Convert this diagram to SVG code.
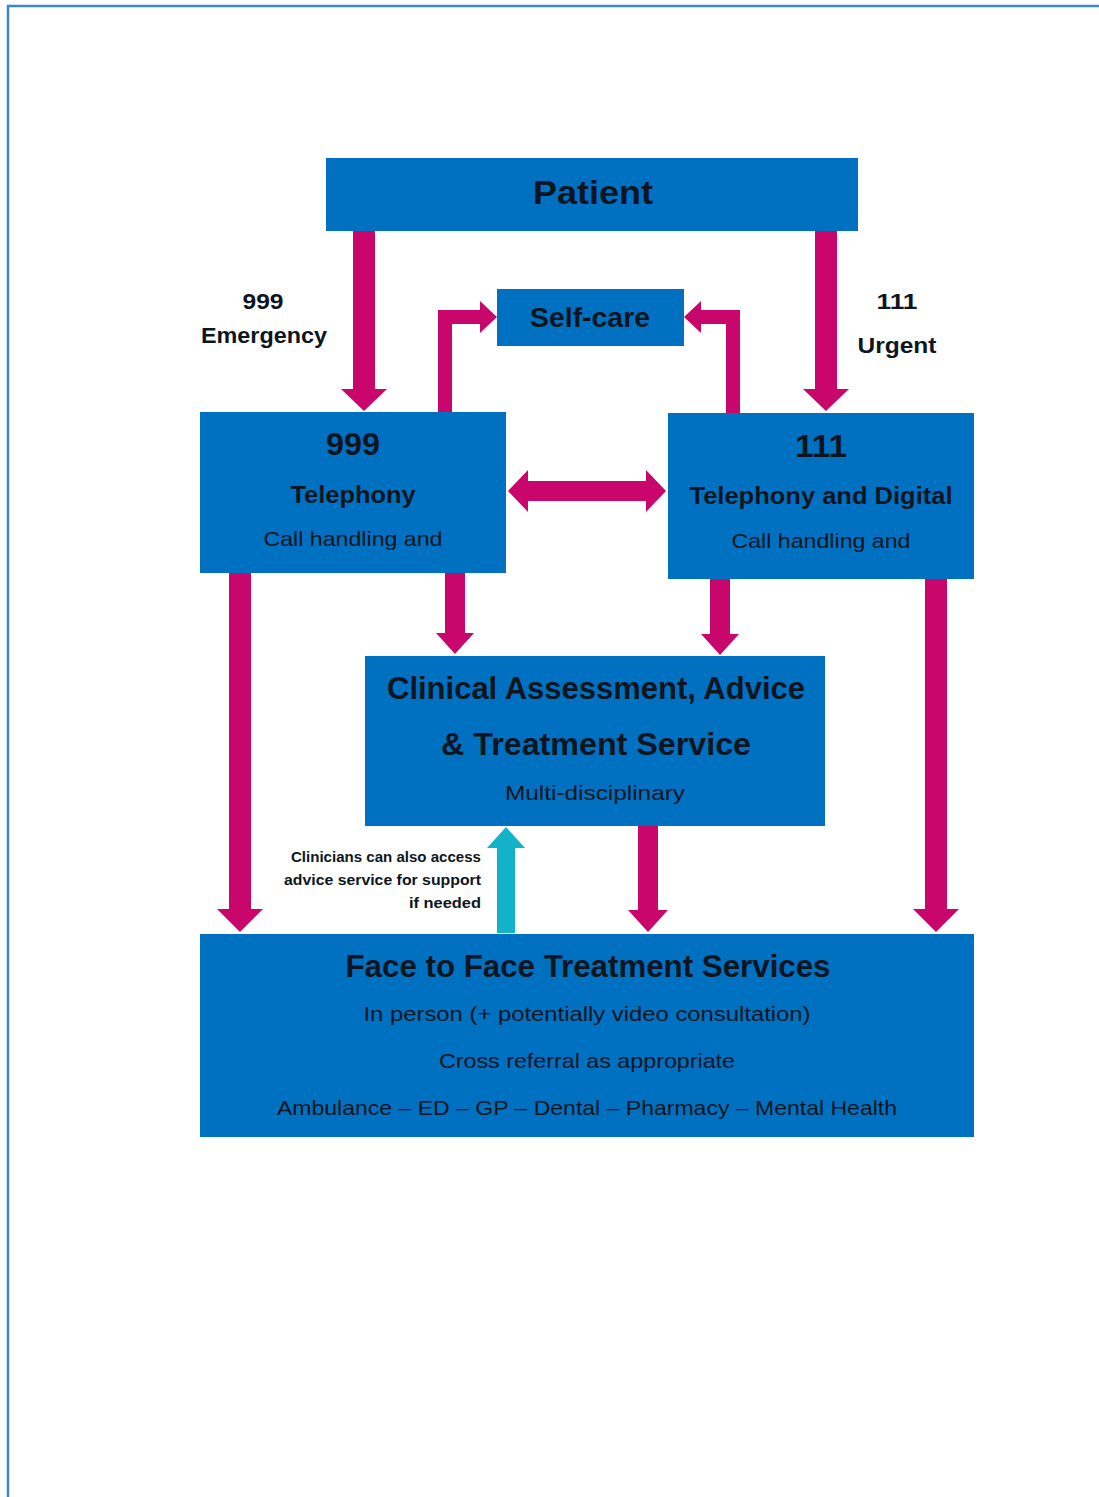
<svg xmlns="http://www.w3.org/2000/svg" width="1099" height="1497" viewBox="0 0 1099 1497">
<defs>
<style>
.box{fill:#0070c0}
.arr{fill:#c8066c}
.up{fill:#12b2c9}
text{font-family:"Liberation Sans",Arial,sans-serif;fill:#0d1620;text-anchor:middle}
.b{font-weight:bold}
</style>
</defs>
<rect width="1099" height="1497" fill="#ffffff"/>
<path d="M8,1497 V6 H1099" fill="none" stroke="#3d87c9" stroke-width="2.5"/>

<g id="connectors">
<polygon class="arr" points="353,231 375,231 375,389 387,389 364,411 341,389 353,389"/>
<polygon class="arr" points="815,231 837,231 837,389 849,389 826,411 803,389 815,389"/>
<polygon class="arr" points="438,412 438,310 480,310 480,301 497,317 480,333 480,324 452,324 452,412"/>
<polygon class="arr" points="740,413 740,310 701,310 701,301 684,317 701,333 701,324 726,324 726,413"/>
<polygon class="arr" points="508,491 528,470 528,481 646,481 646,470 666,491 646,512 646,501 528,501 528,512"/>
<polygon class="arr" points="229,573 251,573 251,909 263,909 240,932 217,909 229,909"/>
<polygon class="arr" points="445,573 465,573 465,633 474,633 455,654 436,633 445,633"/>
<polygon class="arr" points="710,579 730,579 730,634 739,634 720,655 701,634 710,634"/>
<polygon class="arr" points="925,579 947,579 947,909 959,909 936,932 913,909 925,909"/>
<polygon class="arr" points="638,826 658,826 658,910 668,910 648,932 628,910 638,910"/>
<polygon class="up" points="497,933 515,933 515,848 525,848 506,827 487,848 497,848"/>
<text class="b" x="263" y="309" font-size="22" textLength="41" lengthAdjust="spacingAndGlyphs">999</text>
<text class="b" x="264" y="343" font-size="22" textLength="126" lengthAdjust="spacingAndGlyphs">Emergency</text>
<text class="b" x="897" y="309" font-size="22" textLength="41" lengthAdjust="spacingAndGlyphs">111</text>
<text class="b" x="897" y="353" font-size="22" textLength="79" lengthAdjust="spacingAndGlyphs">Urgent</text>
<g class="b" font-size="15">
<text x="481" y="862" text-anchor="end" style="text-anchor:end" textLength="190" lengthAdjust="spacingAndGlyphs">Clinicians can also access</text>
<text x="481" y="885" style="text-anchor:end" textLength="197" lengthAdjust="spacingAndGlyphs">advice service for support</text>
<text x="481" y="908" style="text-anchor:end" textLength="72" lengthAdjust="spacingAndGlyphs">if needed</text>
</g>
</g>

<g id="patient">
<rect class="box" x="326" y="158" width="532" height="73"/>
<text class="b" x="593" y="204" font-size="34" textLength="120" lengthAdjust="spacingAndGlyphs">Patient</text>
</g>

<g id="selfcare">
<rect class="box" x="497" y="289" width="187" height="57"/>
<text class="b" x="590" y="327" font-size="27" textLength="120" lengthAdjust="spacingAndGlyphs">Self-care</text>
</g>

<g id="n999">
<rect class="box" x="200" y="412" width="306" height="161"/>
<text class="b" x="353" y="455" font-size="32" textLength="54" lengthAdjust="spacingAndGlyphs">999</text>
<text class="b" x="353" y="503" font-size="24" textLength="125" lengthAdjust="spacingAndGlyphs">Telephony</text>
<text x="353" y="546" font-size="21" textLength="179" lengthAdjust="spacingAndGlyphs">Call handling and</text>
</g>

<g id="n111">
<rect class="box" x="668" y="413" width="306" height="166"/>
<text class="b" x="821" y="457" font-size="32" textLength="52" lengthAdjust="spacingAndGlyphs">111</text>
<text class="b" x="821" y="504" font-size="24" textLength="263" lengthAdjust="spacingAndGlyphs">Telephony and Digital</text>
<text x="821" y="548" font-size="21" textLength="179" lengthAdjust="spacingAndGlyphs">Call handling and</text>
</g>

<g id="clinical">
<rect class="box" x="365" y="656" width="460" height="170"/>
<text class="b" x="596" y="699" font-size="32" textLength="418" lengthAdjust="spacingAndGlyphs">Clinical Assessment, Advice</text>
<text class="b" x="596" y="755" font-size="32" textLength="310" lengthAdjust="spacingAndGlyphs">&amp; Treatment Service</text>
<text x="595" y="800" font-size="21" textLength="180" lengthAdjust="spacingAndGlyphs">Multi-disciplinary</text>
</g>

<g id="facetoface">
<rect class="box" x="200" y="934" width="774" height="203"/>
<text class="b" x="588" y="977" font-size="32" textLength="485" lengthAdjust="spacingAndGlyphs">Face to Face Treatment Services</text>
<text x="587" y="1021" font-size="21" textLength="447" lengthAdjust="spacingAndGlyphs">In person (+ potentially video consultation)</text>
<text x="587" y="1068" font-size="21" textLength="296" lengthAdjust="spacingAndGlyphs">Cross referral as appropriate</text>
<text x="587" y="1115" font-size="21" textLength="620" lengthAdjust="spacingAndGlyphs">Ambulance – ED – GP – Dental – Pharmacy – Mental Health</text>
</g>
</svg>
